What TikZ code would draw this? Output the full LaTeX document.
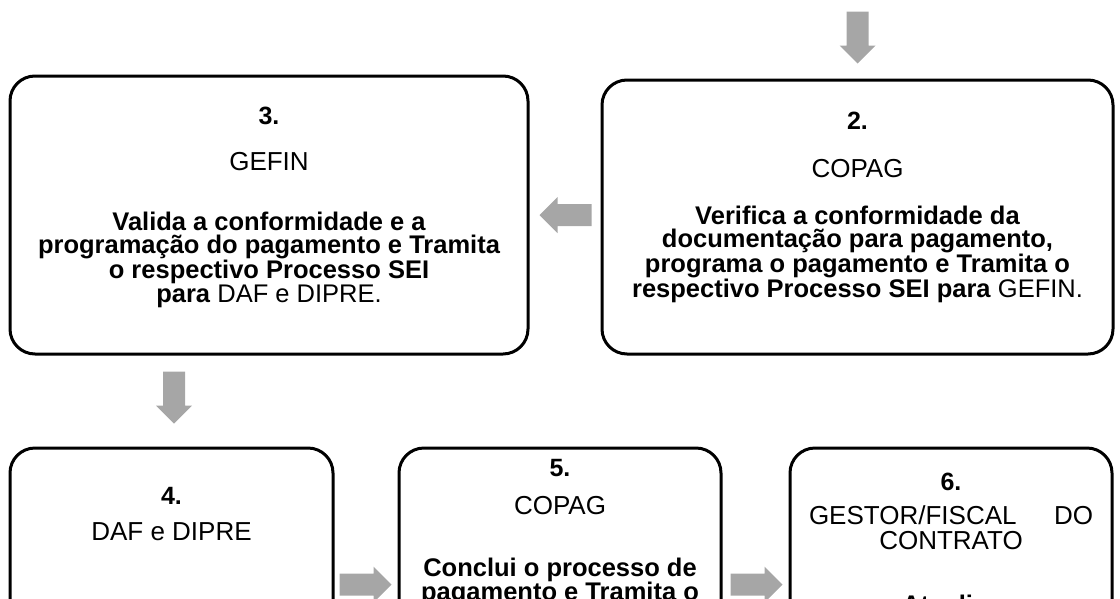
\documentclass[tikz,border=0pt]{standalone}
\usepackage{fontspec}
\setmainfont{Liberation Sans}
\usetikzlibrary{positioning,calc}
\definecolor{cinzaseta}{HTML}{A6A6A6}
\tikzset{
  etapa/.style={draw=black, line width=3pt, rounded corners=25pt, fill=white},
  numero/.style={font=\bfseries\fontsize{25}{26}\selectfont, inner sep=0pt},
  setor/.style={font=\fontsize{26}{24.5}\selectfont, inner sep=0pt, align=center},
  acao/.style={font=\bfseries\fontsize{25.5}{23.5}\selectfont, inner sep=0pt, align=center},
  seta/.pic={\fill[cinzaseta] (0,-11) -- (34,-11) -- (34,-18) -- (52,0) -- (34,18) -- (34,11) -- (0,11) -- cycle;}
}

\begin{document}
\begin{tikzpicture}[x=1pt,y=-1pt]
  \useasboundingbox (0,0) rectangle (1120,598);
  \clip (0,0) rectangle (1120,598);
  % caixas
  \node[etapa, minimum width=511pt, minimum height=274pt] (b2) at (857.5,217) {};
  \node[etapa, minimum width=518pt, minimum height=278pt] (b3) at (269,215) {};
  \node[etapa, minimum width=323pt, minimum height=292pt] (b4) at (171.5,594) {};
  \node[etapa, minimum width=322pt, minimum height=292pt] (b5) at (560,594) {};
  \node[etapa, minimum width=322pt, minimum height=292pt] (b6) at (951,594) {};
  % setas
  \pic[rotate=-90] at ($(b2.north)+(0,-67)$) {seta};
  \pic[rotate=180] at ($(b2.west)+(-9,-2)$) {seta};
  \pic[rotate=-90] at ($(b4.north)+(2.5,-75)$) {seta};
  \pic at ($(b4.north east)+(5,138)$) {seta};
  \pic at ($(b5.north east)+(8,138)$) {seta};
  % 2.
  \node[numero] (n2) at ($(b2.north)+(0,42)$) {2.};
  \node[setor] (s2) at ($(b2.north)+(0,90)$) {COPAG};
  \node[acao] (t2) at ($(b2.north)+(0,176)$) {Verifica a conformidade da\\documentação para pagamento,\\programa o pagamento e Tramita o\\respectivo Processo SEI para \textmd{GEFIN.}};
  % 3.
  \node[numero] (n3) at ($(b3.north)+(0,41)$) {3.};
  \node[setor] (s3) at ($(b3.north)+(0,87)$) {GEFIN};
  \node[acao] (t3) at ($(b3.north)+(0,185)$) {Valida a conformidade e a\\programação do pagamento e Tramita\\o respectivo Processo SEI\\para \textmd{DAF} \textmd{e} \textmd{DIPRE.}};
  % 4.
  \node[numero] (n4) at ($(b4.north)+(0,49)$) {4.};
  \node[setor] (s4) at ($(b4.north)+(0,85)$) {DAF e DIPRE};
  % 5.
  \node[numero] (n5) at ($(b5.north)+(0,22)$) {5.};
  \node[setor] (s5) at ($(b5.north)+(0,59)$) {COPAG};
  \node[acao, anchor=north] (t5) at ($(b5.north)+(0,111)$) {Conclui o processo de\\pagamento e Tramita o};
  % 6.
  \node[numero] (n6) at ($(b6.north)+(0,35)$) {6.};
  \node[setor] (s6) at ($(b6.north)+(0,81)$) {\makebox[284pt]{GESTOR/FISCAL\hfill DO}\\CONTRATO};
  \node[acao, anchor=north] (t6) at ($(b6.north)+(0,148)$) {Atualiza};
\end{tikzpicture}
\end{document}
